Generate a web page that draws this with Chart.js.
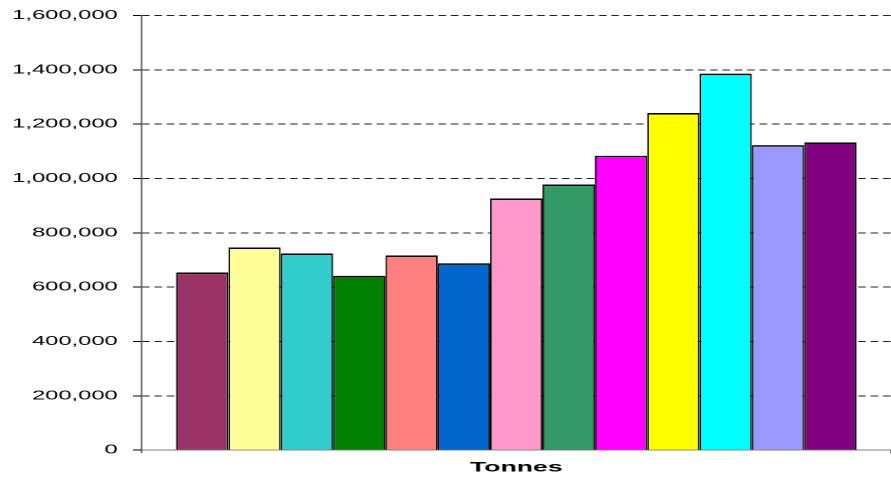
<!DOCTYPE html>
<html>
<head>
<meta charset="utf-8">
<script src="https://cdn.jsdelivr.net/npm/chart.js@4/dist/chart.umd.min.js"></script>
<style>
  html, body { margin: 0; padding: 0; background: #fff; overflow: hidden; }
  /* the original picture is stretched sideways, so the canvas is drawn narrow and widened */
  #grafico { display: block; transform: scaleX(1.8998); transform-origin: 0 0; }
</style>
</head>
<body>
<canvas id="grafico" width="469" height="482"></canvas>
<script>
const categorias = ["Tonnes"];
// one bar per series, left to right
const tonnes = [654000, 746000, 724000, 642000, 717000, 688000, 927000, 978000, 1084000, 1241000, 1386000, 1123000, 1133000];
const cores = [
  "#993366", "#FFFF99", "#33CCCC", "#008000", "#FF8080", "#0066CC", "#FF99CC",
  "#339966", "#FF00FF", "#FFFF00", "#00FFFF", "#9999FF", "#800080",
];

const escalaX = 891 / 469;
const fonte = "'Liberation Sans', Arial, sans-serif";

const datasets = tonnes.map((v, i) => ({
  label: "Série " + (i + 1),
  data: [v],
  backgroundColor: cores[i],
  borderColor: "#000",
  borderWidth: { top: 1.6, bottom: 0, left: 0.9, right: 0.9 },
  borderSkipped: false,
  categoryPercentage: 0.908,
  barPercentage: 1,
}));

const ctx = document.getElementById("grafico").getContext("2d");

new Chart(ctx, {
  type: "bar",
  data: { labels: categorias, datasets },
  options: {
    responsive: false,
    animation: false,
    devicePixelRatio: 2,
    layout: { padding: { left: -1.6, right: 0, top: 10, bottom: 0 } },
    plugins: {
      legend: { display: false },
      tooltip: { enabled: false },
    },
    scales: {
      x: {
        grid: { display: true, drawOnChartArea: false, tickLength: 3, color: "#000", lineWidth: 1 / escalaX },
        border: { display: true, color: "#808080", width: 1 },
        ticks: { color: "#000", padding: 6, font: { family: fonte, size: 14, weight: "bold" } },
      },
      y: {
        min: 0,
        max: 1600000,
        ticks: {
          stepSize: 200000,
          color: "#000",
          padding: 8,
          font: { family: fonte, size: 12.5 },
          callback: (v) => v.toLocaleString("en-US"),
        },
        grid: {
          color: (c) => (c.tick && c.tick.value === 0 ? "rgba(0,0,0,0)" : "#222"),
          lineWidth: 1,
          tickLength: 4.5,
          tickColor: "#000",
          tickBorderDash: [],
        },
        border: { display: true, color: "#000", width: 1 / escalaX, dash: [4, 2.5] },
      },
    },
  },
});
</script>
</body>
</html>
